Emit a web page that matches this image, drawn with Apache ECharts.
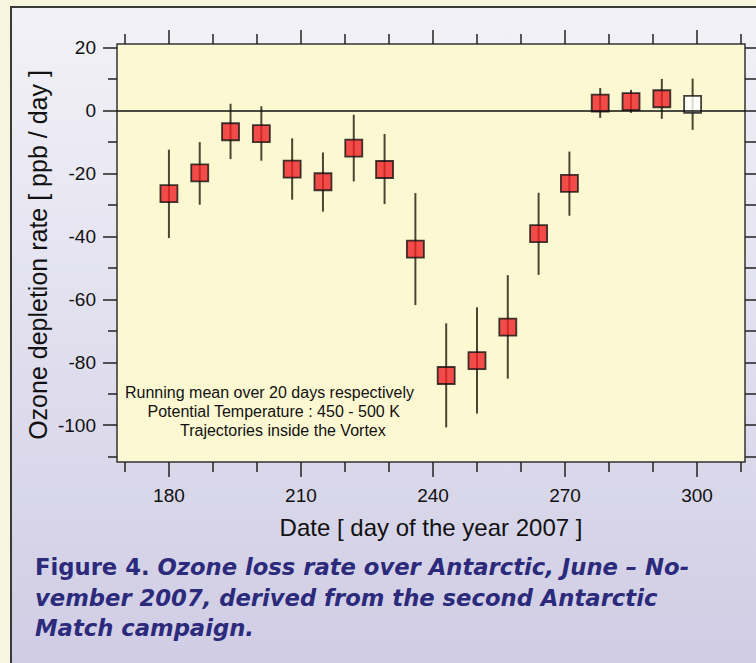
<!DOCTYPE html>
<html>
<head>
<meta charset="utf-8">
<script src="https://cdn.jsdelivr.net/npm/echarts@6/dist/echarts.min.js"></script>
<style>
  html, body { margin: 0; padding: 0; background: #F7F5DE; }
  #chart { width: 756px; height: 663px; }
</style>
</head>
<body>
<div id="chart"></div>
<script>
// Day of the year 2007 (centre of each 20-day running-mean window)
const days = [180, 187, 194, 201, 208, 215, 222, 229, 236, 243, 250, 257, 264, 271, 278, 285, 292, 299];
// Ozone depletion rate [ppb/day]
const rate = [-26.4, -19.8, -6.7, -7.3, -18.6, -22.6, -11.9, -18.7, -44.0, -84.2, -79.5, -68.8, -39.1, -23.1, 2.4, 2.9, 3.8, 2.0];
// Error bar ends
const upper = [-12.4, -10.0, 2.2, 1.4, -8.8, -13.3, -1.3, -7.4, -26.2, -67.6, -62.5, -52.3, -26.1, -13.0, 7.2, 6.6, 10.1, 10.2];
const lower = [-40.5, -29.9, -15.4, -15.9, -28.3, -32.1, -22.5, -29.7, -61.8, -100.7, -96.3, -85.2, -52.2, -33.4, -2.3, -0.7, -2.6, -6.1];
// Days drawn with an open (white) marker
const openDays = [299];

// Axis ticks and labels
const xMajor = [180, 210, 240, 270, 300];
const xMinor = [170, 190, 200, 220, 230, 250, 260, 280, 290, 310];
const yMajor = [-100, -80, -60, -40, -20, 0, 20];
const yMinor = [-110, -90, -70, -50, -30, -10, 10];
const yAll = [-110, -100, -90, -80, -70, -60, -50, -40, -30, -20, -10, 0, 10, 20];

const X_MIN = 168.2, X_MAX = 310.9;
const Y_MIN = -111.7, Y_MAX = 21.2;
const FONT = '"Liberation Sans", Arial, sans-serif';
const CAPTION_FONT = '"DejaVu Sans", sans-serif';
const CAPTION_COLOR = '#2B2A7B';
const CAPTION_SIZE = 22.7;
const TICK = '#222';

const chart = echarts.init(document.getElementById('chart'), null, { renderer: 'svg' });

function xAxisDef(position, values, len, labels) {
  return {
    type: 'value', position: position, min: X_MIN, max: X_MAX,
    axisLine: { show: false, onZero: false },
    splitLine: { show: false },
    axisTick: { show: true, customValues: values, length: len, inside: false,
                lineStyle: { color: TICK, width: 1.5 } },
    axisLabel: labels
      ? { show: true, customValues: values, margin: 24, fontSize: 19, color: '#111', fontFamily: FONT }
      : { show: false }
  };
}
function yAxisDef(position, values, len, labels) {
  return {
    type: 'value', position: position, min: Y_MIN, max: Y_MAX,
    axisLine: { show: false, onZero: false },
    splitLine: { show: false },
    axisTick: { show: true, customValues: values, length: len, inside: false,
                lineStyle: { color: TICK, width: 1.5 } },
    axisLabel: labels
      ? { show: true, customValues: values, margin: 21, fontSize: 19, color: '#111', fontFamily: FONT }
      : { show: false }
  };
}

const errData = days.map((d, i) => [d, lower[i], upper[i]]);
const markData = days.map((d, i) => ({
  value: [d, rate[i]],
  itemStyle: { color: openDays.includes(d) ? '#FFFFFF' : '#EE2024' }
}));

const captionStyle = {
  fontSize: CAPTION_SIZE, fontWeight: 'bold', fontStyle: 'italic',
  fontFamily: CAPTION_FONT, fill: CAPTION_COLOR, verticalAlign: 'middle'
};

const option = {
  animation: false,
  backgroundColor: 'transparent',
  grid: {
    left: 117, top: 44, right: 11, bottom: 201,
    show: true, backgroundColor: '#FCF8D1', borderColor: '#333', borderWidth: 1.5
  },
  xAxis: [
    xAxisDef('bottom', xMajor, 15, true),
    xAxisDef('bottom', xMinor, 10, false),
    xAxisDef('top', xMajor, 14, false),
    xAxisDef('top', xMinor, 10, false)
  ],
  yAxis: [
    yAxisDef('left', yMajor, 14, true),
    yAxisDef('left', yMinor, 9, false),
    yAxisDef('right', yAll, 14, false)
  ],
  graphic: [
    // Figure panel
    {
      type: 'rect', z: -10, silent: true,
      shape: { x: 11, y: 7, width: 760, height: 670 },
      style: {
        fill: new echarts.graphic.LinearGradient(0, 0, 0, 1, [
          { offset: 0, color: '#F2F2F8' },
          { offset: 1, color: '#CFCCE4' }
        ]),
        stroke: '#3A3A3A', lineWidth: 2
      }
    },
    // Axis titles
    {
      type: 'text', x: 37.5, y: 255, rotation: Math.PI / 2,
      style: { text: 'Ozone depletion rate [ ppb / day ]', fontSize: 25, fontFamily: FONT,
               fill: '#111', align: 'center', verticalAlign: 'middle' }
    },
    {
      type: 'text', x: 431, y: 527,
      style: { text: 'Date [ day of the year 2007 ]', fontSize: 24, fontFamily: FONT,
               fill: '#111', align: 'center', verticalAlign: 'middle' }
    },
    // Annotation inside the plot
    {
      type: 'text', x: 125, y: 392,
      style: { text: 'Running mean over 20 days respectively', fontSize: 16, fontFamily: FONT,
               fill: '#111', align: 'left', verticalAlign: 'middle' }
    },
    {
      type: 'text', x: 147.5, y: 411,
      style: { text: 'Potential Temperature : 450 - 500 K', fontSize: 16, fontFamily: FONT,
               fill: '#111', align: 'left', verticalAlign: 'middle' }
    },
    {
      type: 'text', x: 180, y: 430,
      style: { text: 'Trajectories inside the Vortex', fontSize: 16, fontFamily: FONT,
               fill: '#111', align: 'left', verticalAlign: 'middle' }
    },
    // Caption
    {
      type: 'text', x: 35, y: 567,
      style: {
        text: '{a|Figure 4. }{b|Ozone loss rate over Antarctic, June \u2013 No-}',
        verticalAlign: 'middle',
        rich: {
          a: { fontSize: CAPTION_SIZE, fontWeight: 'bold', fontFamily: CAPTION_FONT, fill: CAPTION_COLOR },
          b: { fontSize: CAPTION_SIZE, fontWeight: 'bold', fontStyle: 'italic', fontFamily: CAPTION_FONT, fill: CAPTION_COLOR }
        }
      }
    },
    {
      type: 'text', x: 35, y: 598,
      style: Object.assign({ text: 'vember 2007, derived from the second Antarctic' }, captionStyle)
    },
    {
      type: 'text', x: 35, y: 628,
      style: Object.assign({ text: 'Match campaign.' }, captionStyle)
    }
  ],
  series: [
    {
      // Zero reference line
      type: 'line', data: [], z: 1, silent: true,
      markLine: {
        silent: true, symbol: 'none', label: { show: false },
        lineStyle: { color: '#111', width: 1.5, type: 'solid' },
        data: [{ yAxis: 0 }]
      }
    },
    {
      // Error bars
      type: 'custom', z: 2, silent: true,
      data: errData,
      encode: { x: 0, y: [1, 2] },
      renderItem: function (params, api) {
        const p1 = api.coord([api.value(0), api.value(1)]);
        const p2 = api.coord([api.value(0), api.value(2)]);
        return {
          type: 'line',
          shape: { x1: p1[0], y1: p1[1], x2: p2[0], y2: p2[1] },
          style: { stroke: '#4B4634', lineWidth: 2 }
        };
      }
    },
    {
      // Mean depletion rate markers
      type: 'scatter', z: 3, silent: true,
      symbol: 'rect', symbolSize: 17,
      itemStyle: { borderColor: '#111', borderWidth: 1.8 },
      data: markData
    }
  ]
};
chart.setOption(option);
</script>
</body>
</html>
